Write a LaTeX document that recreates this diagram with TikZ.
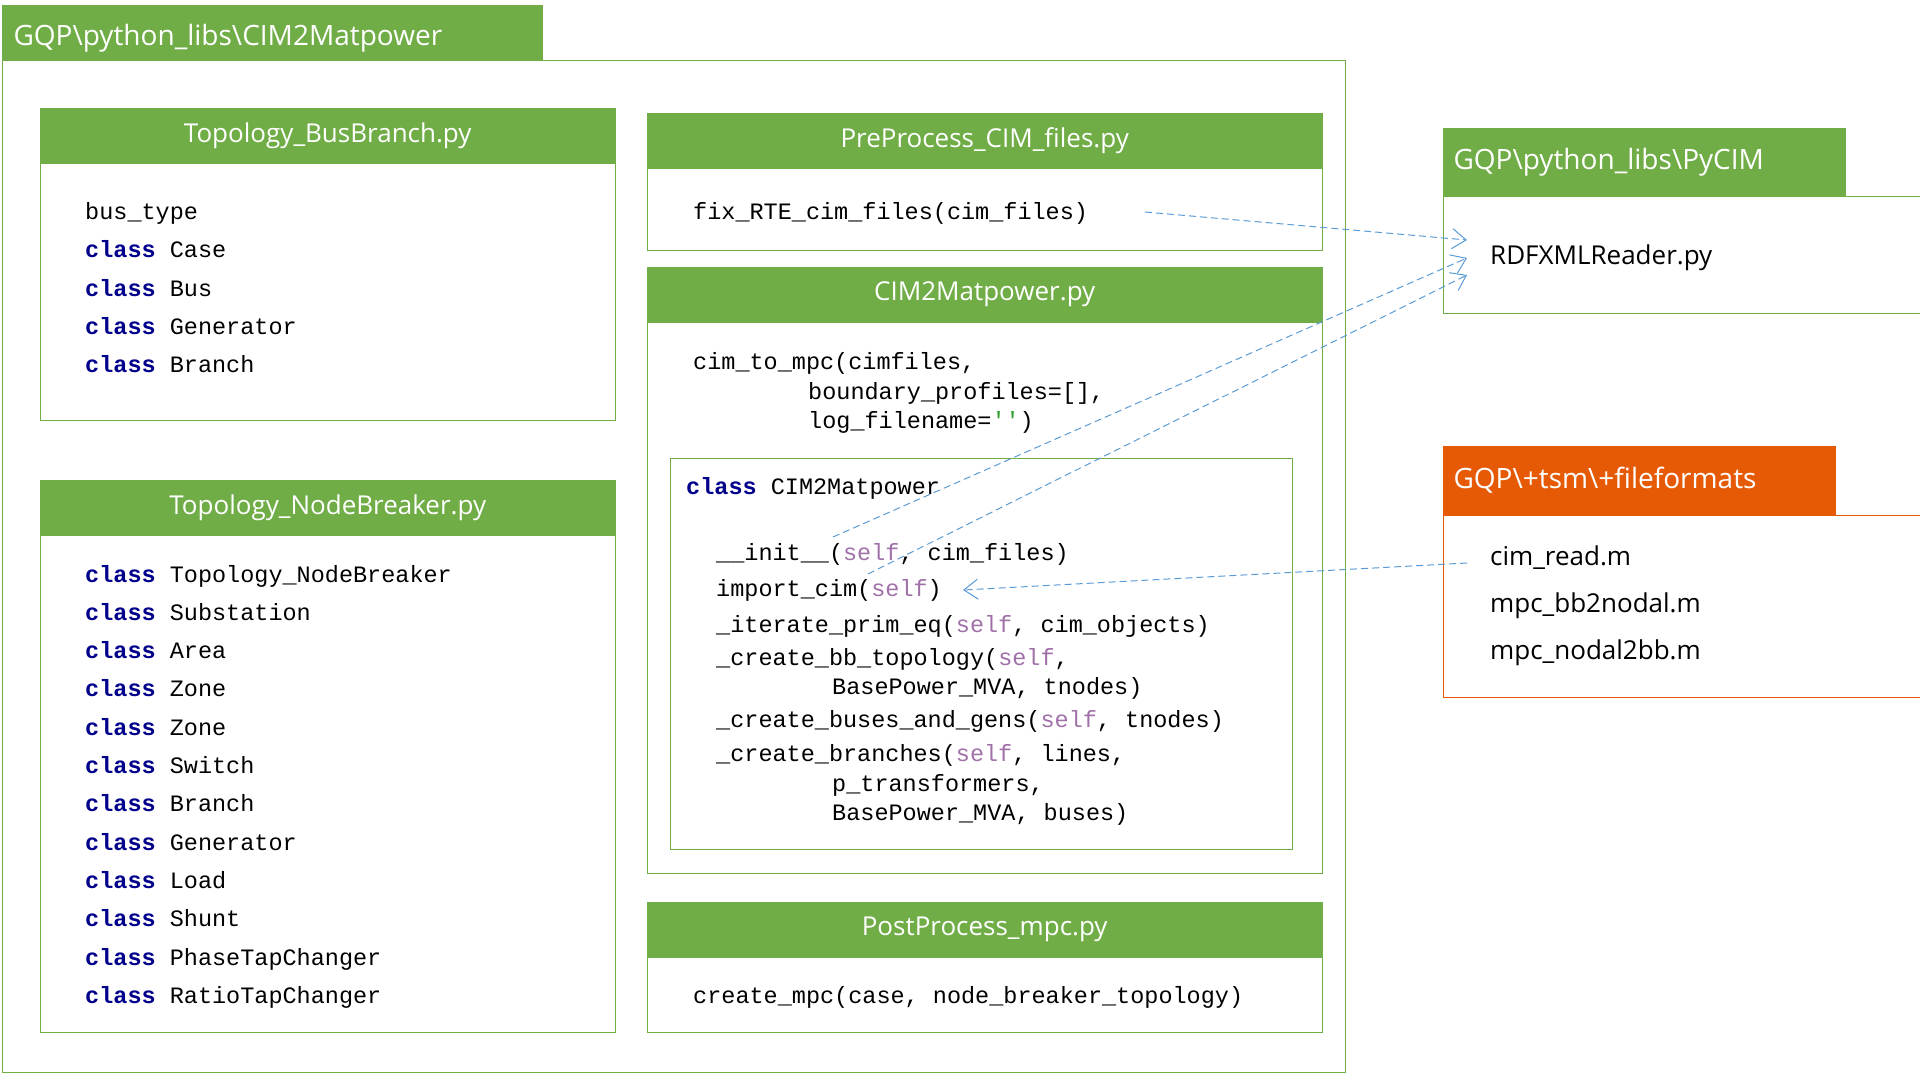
\documentclass[tikz,border=0pt]{standalone}
\usepackage{fontspec}
\setmainfont{Open Sans}
\setmonofont{Liberation Mono}
\usetikzlibrary{arrows.meta}
\definecolor{gr}{HTML}{70AD47}
\definecolor{org}{HTML}{E65A06}
\definecolor{kw}{HTML}{00008B}
\definecolor{slf}{HTML}{A070A8}
\definecolor{str}{HTML}{2E9E2E}
\definecolor{arr}{HTML}{5B9BD5}
\newcommand{\kw}[1]{{\color{kw}\bfseries #1}}
\newcommand{\slf}{{\color{slf}self}}
\begin{document}
\begin{tikzpicture}[x=1pt,y=-1pt,
  frame/.style={draw=gr,line width=1.2pt,anchor=north west,inner sep=0pt},
  hdr/.style={fill=gr,draw=gr,anchor=north west,inner sep=0pt,text=white,font=\fontsize{26}{30}\selectfont},
  code/.style={anchor=base west,inner sep=0pt,font=\ttfamily\fontsize{23.5}{28}\selectfont},
  txt/.style={anchor=base west,inner sep=0pt,font=\fontsize{26}{30}\selectfont},
  lnk/.style={draw=arr,line width=1pt,dash pattern=on 7pt off 4pt,-{Straight Barb[length=14pt,width=20pt,line width=1pt]}}]
\useasboundingbox (0,0) rectangle (1920,1079);
% outer
\node[frame,minimum width=1343,minimum height=1012] (outer) at (2,60) {};
\node[hdr,minimum width=540,minimum height=55] (outerh) at (2,5) {};
\node[anchor=west,text=white,font=\fontsize{28}{32}\selectfont] (outert) at (10,38) {GQP\textbackslash python\_libs\textbackslash CIM2Matpower};
% BusBranch
\node[frame,minimum width=575,minimum height=312] (bb) at (40,108) {};
\node[hdr,minimum width=575,minimum height=55] (bbh) at (40,108) {Topology\_BusBranch.py};
\node[code] (b1) at (85,219) {bus\_type};
\node[code] (b2) at (85,257) {\kw{class} Case};
\node[code] (b3) at (85,296) {\kw{class} Bus};
\node[code] (b4) at (85,334) {\kw{class} Generator};
\node[code] (b5) at (85,372) {\kw{class} Branch};
% NodeBreaker
\node[frame,minimum width=575,minimum height=552] (nb) at (40,480) {};
\node[hdr,minimum width=575,minimum height=55] (nbh) at (40,480) {Topology\_NodeBreaker.py};
\foreach \t [count=\i] in {Topology\_NodeBreaker,Substation,Area,Zone,Zone,Switch,Branch,Generator,Load,Shunt,PhaseTapChanger,RatioTapChanger}
  \node[code] (n\i) at (85,{582+38.3*(\i-1)}) {\kw{class} \t};
% PreProcess
\node[frame,minimum width=675,minimum height=137] (pp) at (647,113) {};
\node[hdr,minimum width=675,minimum height=55] (pph) at (647,113) {PreProcess\_CIM\_files.py};
\node[code] (fix) at (693,219) {fix\_RTE\_cim\_files(cim\_files)};
% CIM2Matpower
\node[frame,minimum width=675,minimum height=606] (cm) at (647,267) {};
\node[hdr,minimum width=675,minimum height=55] (cmh) at (647,267) {CIM2Matpower.py};
\node[code] (c1) at (693,369) {cim\_to\_mpc(cimfiles,};
\node[code] (c2) at (808,399) {boundary\_profiles=[],};
\node[code] (c3) at (808,428) {log\_filename={\color{str}''})};
\node[frame,minimum width=622,minimum height=391] (inner) at (670,458) {};
\node[code] (k0) at (686,494) {\kw{class} CIM2Matpower};
\node[code] (k1) at (716,560) {\_\_init\_\_(\slf, cim\_files)};
\node[code] (k2) at (716,596) {import\_cim(\slf)};
\node[code] (k3) at (716,632) {\_iterate\_prim\_eq(\slf, cim\_objects)};
\node[code] (k4) at (716,665) {\_create\_bb\_topology(\slf,};
\node[code] (k5) at (832,694) {BasePower\_MVA, tnodes)};
\node[code] (k6) at (716,727) {\_create\_buses\_and\_gens(\slf, tnodes)};
\node[code] (k7) at (716,761) {\_create\_branches(\slf, lines,};
\node[code] (k8) at (832,791) {p\_transformers,};
\node[code] (k9) at (832,820) {BasePower\_MVA, buses)};
% PostProcess
\node[frame,minimum width=675,minimum height=130] (po) at (647,902) {};
\node[hdr,minimum width=675,minimum height=55] (poh) at (647,902) {PostProcess\_mpc.py};
\node[code] (p1) at (693,1003) {create\_mpc(case, node\_breaker\_topology)};
% PyCIM
\node[frame,minimum width=477,minimum height=117] (py) at (1443,196) {};
\node[hdr,minimum width=402,minimum height=68] (pyh) at (1443,128) {};
\node[anchor=west,text=white,font=\fontsize{28}{32}\selectfont] (pyt) at (1450,162) {GQP\textbackslash python\_libs\textbackslash PyCIM};
\node[txt] (rdf) at (1490,264) {RDFXMLReader.py};
% fileformats
\node[frame,draw=org,minimum width=477,minimum height=182] (ff) at (1443,515) {};
\node[hdr,fill=org,draw=org,minimum width=392,minimum height=69] (ffh) at (1443,446) {};
\node[anchor=west,text=white,font=\fontsize{28}{32}\selectfont] (fft) at (1450,480) {GQP\textbackslash +tsm\textbackslash +fileformats};
\node[txt] (f1) at (1490,565) {cim\_read.m};
\node[txt] (f2) at (1490,612) {mpc\_bb2nodal.m};
\node[txt] (f3) at (1490,659) {mpc\_nodal2bb.m};
% links
\coordinate (a1s) at (1145,212); \coordinate (a1e) at (1467,240);
\coordinate (a2s) at (833,537);  \coordinate (a2e) at (1467,258);
\coordinate (a3s) at (868,574);  \coordinate (a3e) at (1467,275);
\coordinate (a4s) at (1467,563); \coordinate (a4e) at (963,590);
\draw[lnk] (a1s) -- (a1e);
\draw[lnk] (a2s) -- (a2e);
\draw[lnk] (a3s) -- (a3e);
\draw[lnk] (a4s) -- (a4e);
\end{tikzpicture}
\end{document}
